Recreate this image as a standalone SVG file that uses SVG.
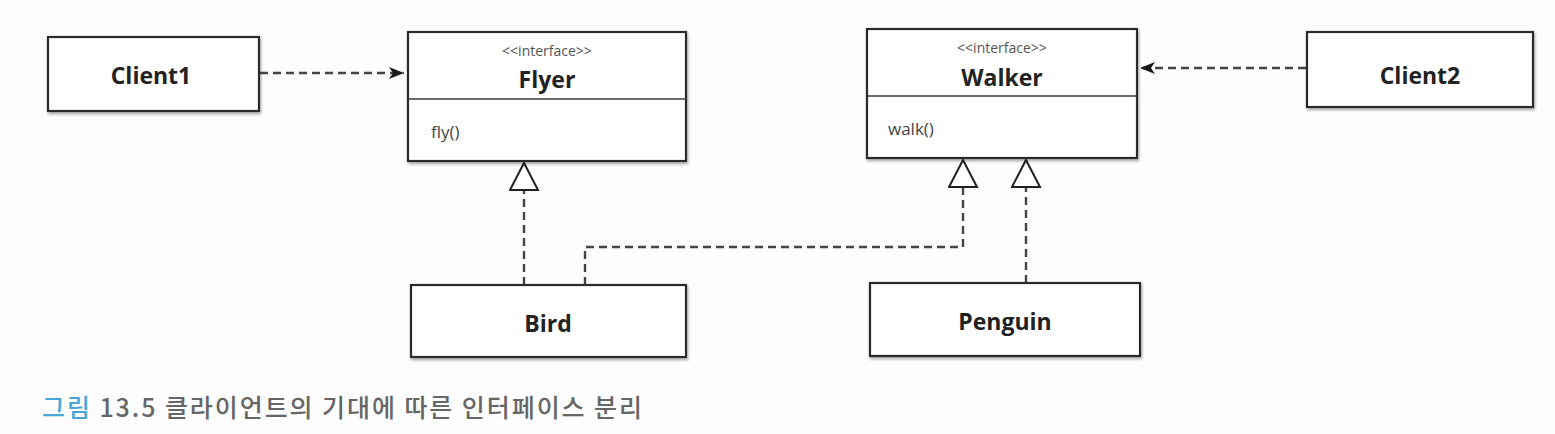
<svg xmlns="http://www.w3.org/2000/svg" width="1555" height="434" viewBox="0 0 1555 434">
  <style>
    .box { fill: #ffffff; stroke: #2a2a2a; stroke-width: 2.2; }
    .div { stroke: #3a3a3a; stroke-width: 1.6; }
    .name { font-family: "Open Sans", "Liberation Sans", sans-serif; font-weight: 700; font-size: 23px; fill: #222; text-anchor: middle; }
    .stereo { font-family: "Open Sans", "Liberation Sans", sans-serif; font-size: 14px; fill: #555; text-anchor: middle; }
    .op { font-family: "Open Sans", "Liberation Sans", sans-serif; font-size: 17px; fill: #444; }
    .dash { fill: none; stroke: #444; stroke-width: 2.4; stroke-dasharray: 8 5; }
    .cap { font-family: "Noto Sans CJK KR", "Noto Sans", sans-serif; font-size: 25px; font-weight: 500; fill: #666; }
  </style>
  <defs>
    <filter id="sh" x="-10%" y="-20%" width="120%" height="150%">
      <feDropShadow dx="1" dy="2" stdDeviation="1.5" flood-color="#000" flood-opacity="0.35"/>
    </filter>
    <marker id="open" markerUnits="userSpaceOnUse" markerWidth="18" markerHeight="16" refX="16" refY="7" orient="auto">
      <path d="M1,1 L16,7 L1,13 L5,7 Z" fill="#1a1a1a"/>
    </marker>
    <marker id="real" markerUnits="userSpaceOnUse" markerWidth="32" markerHeight="32" refX="29" refY="15" orient="auto">
      <path d="M2,1 L29,15 L2,29 Z" fill="#fff" stroke="#222" stroke-width="2"/>
    </marker>
  </defs>
  <rect width="1555" height="434" fill="#fdfdfd"/>

  <g id="connectors">
    <line class="dash" x1="260" y1="73" x2="404" y2="73" marker-end="url(#open)"/>
    <line class="dash" x1="1306" y1="68" x2="1140" y2="68" marker-end="url(#open)"/>
    <line class="dash" x1="524" y1="285" x2="524" y2="163" marker-end="url(#real)"/>
    <polyline class="dash" points="585,285 585,247 963,247 963,160" marker-end="url(#real)"/>
    <line class="dash" x1="1026" y1="283" x2="1026" y2="160" marker-end="url(#real)"/>
  </g>

  <g id="client1">
    <rect class="box" x="48" y="37" width="211" height="74" filter="url(#sh)"/>
    <text class="name" x="151" y="84">Client1</text>
  </g>

  <g id="flyer">
    <rect class="box" x="408" y="32" width="278" height="129" filter="url(#sh)"/>
    <line class="div" x1="408" y1="99" x2="686" y2="99"/>
    <text class="stereo" x="547" y="56">&lt;&lt;interface&gt;&gt;</text>
    <text class="name" x="547" y="88">Flyer</text>
    <text class="op" x="431" y="138">fly()</text>
  </g>

  <g id="walker">
    <rect class="box" x="867" y="29" width="270" height="129" filter="url(#sh)"/>
    <line class="div" x1="867" y1="96" x2="1137" y2="96"/>
    <text class="stereo" x="1002" y="53">&lt;&lt;interface&gt;&gt;</text>
    <text class="name" x="1002" y="86">Walker</text>
    <text class="op" x="888" y="135">walk()</text>
  </g>

  <g id="client2">
    <rect class="box" x="1307" y="32" width="226" height="75" filter="url(#sh)"/>
    <text class="name" x="1420" y="84">Client2</text>
  </g>

  <g id="bird">
    <rect class="box" x="411" y="285" width="275" height="72" filter="url(#sh)"/>
    <text class="name" x="548" y="332">Bird</text>
  </g>

  <g id="penguin">
    <rect class="box" x="870" y="283" width="270" height="73" filter="url(#sh)"/>
    <text class="name" x="1005" y="330">Penguin</text>
  </g>

  <text class="cap" x="42" y="417" textLength="600" lengthAdjust="spacing"><tspan fill="#4aa6d6">그림</tspan> 13.5 클라이언트의 기대에 따른 인터페이스 분리</text>
</svg>
